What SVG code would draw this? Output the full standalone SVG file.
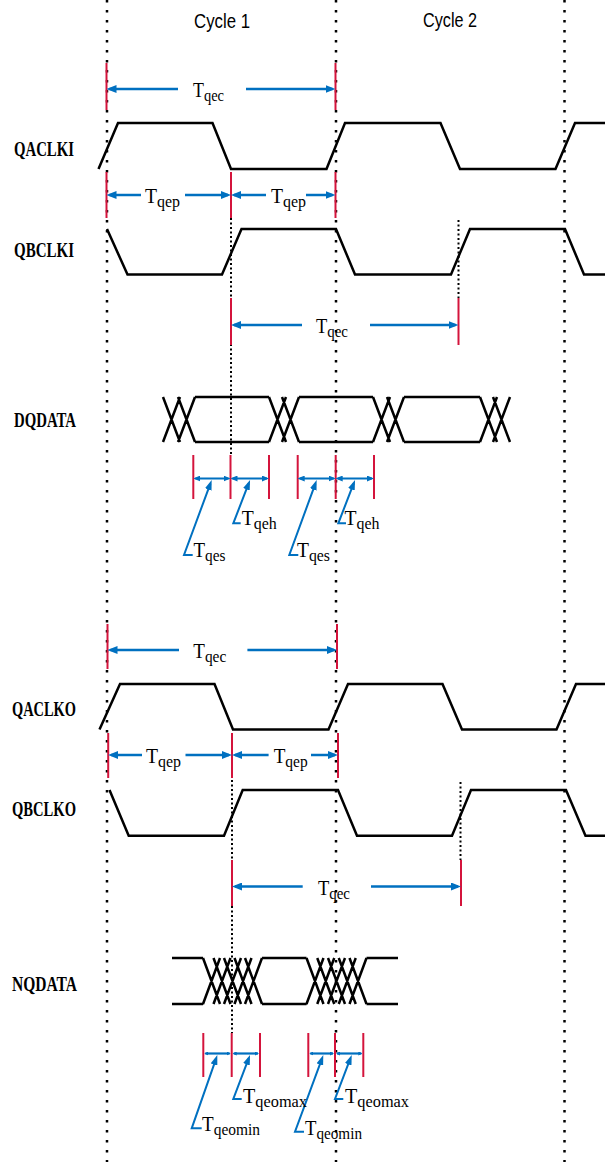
<svg xmlns="http://www.w3.org/2000/svg" width="605" height="1162" viewBox="0 0 605 1162">
<style>
.wave{fill:none;stroke:#000;stroke-width:2.5;stroke-linejoin:miter}
.grid{stroke:#000;stroke-width:2.5;stroke-dasharray:2.5 7.5}
.grid2{stroke:#000;stroke-width:2;stroke-dasharray:2 2.5}
.tick{stroke:#D4143C;stroke-width:2}
.dim{stroke:#0070C0;stroke-width:2.5;fill:none}
.sdim{stroke:#0070C0;stroke-width:2.2;fill:none}
.ldr{stroke:#0070C0;stroke-width:2;fill:none}
.sig{font-family:"Liberation Serif",serif;font-weight:bold;font-size:20.5px;fill:#000}
.lbl{font-family:"Liberation Serif",serif;font-size:21px;fill:#000}
.sub{font-size:17px}
.cyc{font-family:"Liberation Sans",sans-serif;font-size:20.5px;fill:#000}
</style>
<defs>
<marker id="ah" viewBox="0 0 10 8" refX="7" refY="4" markerWidth="10" markerHeight="8" markerUnits="userSpaceOnUse" orient="auto"><path d="M0,0L10,4L0,8z" fill="#0070C0"/></marker>
<marker id="sh" viewBox="0 0 7 6" refX="5" refY="3" markerWidth="7" markerHeight="6" markerUnits="userSpaceOnUse" orient="auto-start-reverse"><path d="M0,0L7,3L0,6z" fill="#0070C0"/></marker>
<marker id="th" viewBox="0 0 4 4" refX="3" refY="2" markerWidth="4" markerHeight="4" markerUnits="userSpaceOnUse" orient="auto-start-reverse"><path d="M0,0L4,2L0,4z" fill="#0070C0"/></marker>
<marker id="lh" viewBox="0 0 10 7" refX="6" refY="3.5" markerWidth="10" markerHeight="7" markerUnits="userSpaceOnUse" orient="auto"><path d="M0,0L10,3.5L0,7z" fill="#0070C0"/></marker>
</defs>
<rect width="605" height="1162" fill="#fff"/>

<g id="gridlines">
<line class="grid" x1="107" y1="0" x2="107" y2="1162"/>
<line class="grid" x1="336" y1="0" x2="336" y2="1162"/>
<line class="grid" x1="564.5" y1="0" x2="564.5" y2="1162"/>
<line class="grid2" x1="231" y1="218" x2="231" y2="455"/>
<line class="grid2" x1="458.5" y1="220" x2="458.5" y2="298"/>
<line class="grid2" x1="232" y1="780" x2="232" y2="1033"/>
<line class="grid2" x1="460.5" y1="782" x2="460.5" y2="860"/>
</g>

<g id="cycle-labels">
<text class="cyc" x="194" y="27.5" textLength="56" lengthAdjust="spacingAndGlyphs">Cycle 1</text>
<text class="cyc" x="423" y="26.5" textLength="54" lengthAdjust="spacingAndGlyphs">Cycle 2</text>
</g>

<g id="QACLKI">
<text class="sig" x="14" y="156" textLength="60" lengthAdjust="spacingAndGlyphs">QACLKI</text>
<path class="wave" d="M98.5,169L118,123L212.5,123L231,169L326.5,169L345,123L440.5,123L460,169L555.5,169L575,123L605,123"/>
</g>
<g id="QBCLKI">
<text class="sig" x="14" y="257" textLength="60" lengthAdjust="spacingAndGlyphs">QBCLKI</text>
<path class="wave" d="M107,229L127.5,274.5L222,274.5L241.5,229L336,229L355,274.5L451,274.5L470,229L565,229L584,274.5L605,274.5"/>
</g>
<g id="DQDATA">
<text class="sig" x="14" y="427" textLength="62" lengthAdjust="spacingAndGlyphs">DQDATA</text>
<path class="wave" d="M163,397L180,442M163,442L180,397M178,397L195,442M178,442L195,397
M269,397L286,442M269,442L286,397M282,397L299,442M282,442L299,397
M373,397L390,442M373,442L390,397M387,397L404,442M387,442L404,397
M480,397L497,442M480,442L497,397M493,397L510,442M493,442L510,397
M195,397H269M195,442H269M299,397H373M299,442H373M404,397H480M404,442H480"/>
</g>
<g id="QACLKO">
<text class="sig" x="12" y="716" textLength="64" lengthAdjust="spacingAndGlyphs">QACLKO</text>
<path class="wave" d="M99.5,729.5L120,684L214.5,684L233,729.5L328.5,729.5L348,684L442.5,684L462,729.5L556.5,729.5L576,684L605,684"/>
</g>
<g id="QBCLKO">
<text class="sig" x="12" y="816" textLength="64" lengthAdjust="spacingAndGlyphs">QBCLKO</text>
<path class="wave" d="M109.5,790L128.7,835.7L224,835.7L242.7,790L338,790L357,835.7L452,835.7L471,790L566,790L585.5,835.7L605,835.7"/>
</g>
<g id="NQDATA">
<text class="sig" x="12" y="991" textLength="65" lengthAdjust="spacingAndGlyphs">NQDATA</text>
<path class="wave" d="M172,958H203M172,1004H203M262,958H306.5M262,1004H306.5M366.5,958H398M366.5,1004H398
M203,958L220,1004M203,1004L220,958
M213.5,958L230.5,1004M213.5,1004L230.5,958
M224,958L241,1004M224,1004L241,958
M234.5,958L251.5,1004M234.5,1004L251.5,958
M245,958L262,1004M245,1004L262,958
M306.5,958L323.5,1004M306.5,1004L323.5,958
M317.25,958L334.25,1004M317.25,1004L334.25,958
M328,958L345,1004M328,1004L345,958
M338.75,958L355.75,1004M338.75,1004L355.75,958
M349.5,958L366.5,1004M349.5,1004L366.5,958"/>
</g>

<g id="ticks">
<line class="tick" x1="106.5" y1="63" x2="106.5" y2="110"/>
<line class="tick" x1="335.5" y1="63" x2="335.5" y2="110"/>
<line class="tick" x1="106.5" y1="172" x2="106.5" y2="218"/>
<line class="tick" x1="231" y1="172" x2="231" y2="218"/>
<line class="tick" x1="335.5" y1="172" x2="335.5" y2="218"/>
<line class="tick" x1="231" y1="298" x2="231" y2="345"/>
<line class="tick" x1="458.5" y1="298" x2="458.5" y2="345"/>
<line class="tick" x1="193.3" y1="455" x2="193.3" y2="499"/>
<line class="tick" x1="230.5" y1="455" x2="230.5" y2="499"/>
<line class="tick" x1="269" y1="455" x2="269" y2="499"/>
<line class="tick" x1="297.7" y1="455" x2="297.7" y2="499"/>
<line class="tick" x1="335.7" y1="455" x2="335.7" y2="499"/>
<line class="tick" x1="374" y1="455" x2="374" y2="499"/>
<line class="tick" x1="107.5" y1="624" x2="107.5" y2="669"/>
<line class="tick" x1="337" y1="624" x2="337" y2="669"/>
<line class="tick" x1="108.2" y1="733" x2="108.2" y2="778"/>
<line class="tick" x1="232" y1="733" x2="232" y2="778"/>
<line class="tick" x1="338" y1="733" x2="338" y2="778"/>
<line class="tick" x1="232" y1="860" x2="232" y2="906"/>
<line class="tick" x1="461" y1="860" x2="461" y2="906"/>
<line class="tick" x1="203.3" y1="1033" x2="203.3" y2="1077"/>
<line class="tick" x1="231.7" y1="1033" x2="231.7" y2="1077"/>
<line class="tick" x1="260" y1="1033" x2="260" y2="1077"/>
<line class="tick" x1="308.3" y1="1033" x2="308.3" y2="1077"/>
<line class="tick" x1="335" y1="1033" x2="335" y2="1077"/>
<line class="tick" x1="363.3" y1="1033" x2="363.3" y2="1077"/>
</g>

<g id="connectors">
<line class="dim" x1="178" y1="89" x2="109.5" y2="89" marker-end="url(#ah)"/>
<line class="dim" x1="246" y1="89" x2="332.5" y2="89" marker-end="url(#ah)"/>
<line class="dim" x1="141" y1="195" x2="109.5" y2="195" marker-end="url(#ah)"/>
<line class="dim" x1="185" y1="195" x2="228" y2="195" marker-end="url(#ah)"/>
<line class="dim" x1="266" y1="195" x2="234" y2="195" marker-end="url(#ah)"/>
<line class="dim" x1="306" y1="195" x2="332.5" y2="195" marker-end="url(#ah)"/>
<line class="dim" x1="302" y1="325" x2="234" y2="325" marker-end="url(#ah)"/>
<line class="dim" x1="370" y1="325" x2="455.5" y2="325" marker-end="url(#ah)"/>
<line class="sdim" x1="195.3" y1="478.5" x2="228.5" y2="478.5" marker-start="url(#sh)" marker-end="url(#sh)"/>
<line class="sdim" x1="232.5" y1="478.5" x2="267" y2="478.5" marker-start="url(#sh)" marker-end="url(#sh)"/>
<line class="sdim" x1="299.7" y1="478.5" x2="333.7" y2="478.5" marker-start="url(#sh)" marker-end="url(#sh)"/>
<line class="sdim" x1="337.7" y1="478.5" x2="372" y2="478.5" marker-start="url(#sh)" marker-end="url(#sh)"/>
<line class="dim" x1="179" y1="650" x2="110.5" y2="650" marker-end="url(#ah)"/>
<line class="dim" x1="247.4" y1="650" x2="334" y2="650" marker-end="url(#ah)"/>
<line class="dim" x1="142" y1="755" x2="111.2" y2="755" marker-end="url(#ah)"/>
<line class="dim" x1="185.5" y1="755" x2="229" y2="755" marker-end="url(#ah)"/>
<line class="dim" x1="268.6" y1="755" x2="235" y2="755" marker-end="url(#ah)"/>
<line class="dim" x1="311" y1="755" x2="335" y2="755" marker-end="url(#ah)"/>
<line class="dim" x1="302.7" y1="886.5" x2="235" y2="886.5" marker-end="url(#ah)"/>
<line class="dim" x1="371" y1="886.5" x2="458" y2="886.5" marker-end="url(#ah)"/>
<line class="sdim" x1="205.3" y1="1053.5" x2="229.7" y2="1053.5" marker-start="url(#th)" marker-end="url(#th)"/>
<line class="sdim" x1="233.7" y1="1053.5" x2="258" y2="1053.5" marker-start="url(#th)" marker-end="url(#th)"/>
<line class="sdim" x1="310.3" y1="1053.5" x2="333" y2="1053.5" marker-start="url(#th)" marker-end="url(#th)"/>
<line class="sdim" x1="337" y1="1053.5" x2="361.3" y2="1053.5" marker-start="url(#th)" marker-end="url(#th)"/>
<path class="ldr" d="M192.7,555L184,555L210.3,483.8" marker-end="url(#lh)"/>
<path class="ldr" d="M240.7,523.3L233.3,523.3L248.6,483.7" marker-end="url(#lh)"/>
<path class="ldr" d="M298.3,555L289.3,555L315.3,483.8" marker-end="url(#lh)"/>
<path class="ldr" d="M346,523.3L338.3,523.3L353.6,483.7" marker-end="url(#lh)"/>
<path class="ldr" d="M201.7,1128.3L191.7,1128.3L216,1058.8" marker-end="url(#lh)"/>
<path class="ldr" d="M241.7,1099L233.3,1099L248.6,1058.7" marker-end="url(#lh)"/>
<path class="ldr" d="M304,1131.7L295,1131.7L321.9,1058.8" marker-end="url(#lh)"/>
<path class="ldr" d="M343.3,1099L335,1099L350.3,1058.7" marker-end="url(#lh)"/>
</g>

<g id="timing-labels">
<text class="lbl" x="193" y="97" textLength="31" lengthAdjust="spacingAndGlyphs">T<tspan class="sub" dy="4">qec</tspan></text>
<text class="lbl" x="145" y="203" textLength="35" lengthAdjust="spacingAndGlyphs">T<tspan class="sub" dy="4">qep</tspan></text>
<text class="lbl" x="271" y="203" textLength="35" lengthAdjust="spacingAndGlyphs">T<tspan class="sub" dy="4">qep</tspan></text>
<text class="lbl" x="316" y="333" textLength="32" lengthAdjust="spacingAndGlyphs">T<tspan class="sub" dy="4">qec</tspan></text>
<text class="lbl" x="193.5" y="557" textLength="32" lengthAdjust="spacingAndGlyphs">T<tspan class="sub" dy="4">qes</tspan></text>
<text class="lbl" x="241.7" y="525" textLength="35" lengthAdjust="spacingAndGlyphs">T<tspan class="sub" dy="4">qeh</tspan></text>
<text class="lbl" x="297" y="557" textLength="33" lengthAdjust="spacingAndGlyphs">T<tspan class="sub" dy="4">qes</tspan></text>
<text class="lbl" x="344.5" y="525" textLength="35" lengthAdjust="spacingAndGlyphs">T<tspan class="sub" dy="4">qeh</tspan></text>
<text class="lbl" x="193.3" y="658" textLength="33" lengthAdjust="spacingAndGlyphs">T<tspan class="sub" dy="4">qec</tspan></text>
<text class="lbl" x="146" y="763" textLength="35" lengthAdjust="spacingAndGlyphs">T<tspan class="sub" dy="4">qep</tspan></text>
<text class="lbl" x="273.7" y="763" textLength="34" lengthAdjust="spacingAndGlyphs">T<tspan class="sub" dy="4">qep</tspan></text>
<text class="lbl" x="318" y="895" textLength="32" lengthAdjust="spacingAndGlyphs">T<tspan class="sub" dy="4">qec</tspan></text>
<text class="lbl" x="202" y="1131" textLength="58" lengthAdjust="spacingAndGlyphs">T<tspan class="sub" dy="4">qeomin</tspan></text>
<text class="lbl" x="243" y="1103" textLength="64" lengthAdjust="spacingAndGlyphs">T<tspan class="sub" dy="4">qeomax</tspan></text>
<text class="lbl" x="305" y="1135" textLength="57" lengthAdjust="spacingAndGlyphs">T<tspan class="sub" dy="4">qeomin</tspan></text>
<text class="lbl" x="345" y="1103" textLength="64" lengthAdjust="spacingAndGlyphs">T<tspan class="sub" dy="4">qeomax</tspan></text>
</g>
</svg>
